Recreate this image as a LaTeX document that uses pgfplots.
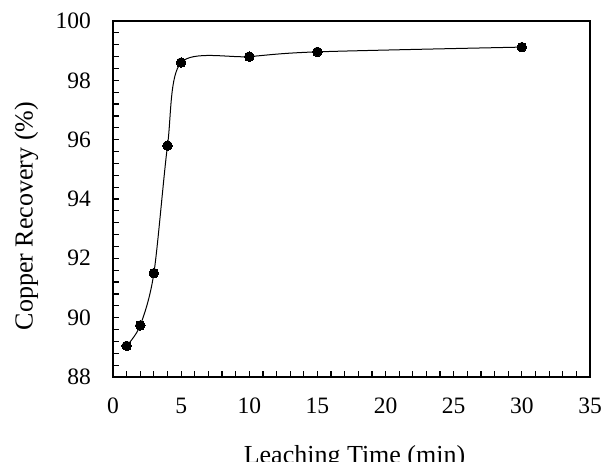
\documentclass[border=0pt]{standalone}
\usepackage{pgfplots}
\pgfplotsset{compat=1.18}
\usepackage{fontspec}
\setmainfont{Liberation Serif}
\begin{document}
\begin{tikzpicture}
\useasboundingbox (0,0) rectangle (603pt,461pt);
\begin{axis}[
  at={(113pt,84pt)}, anchor=south west,
  scale only axis, width=477pt, height=356pt,
  xmin=0, xmax=35, ymin=88, ymax=100,
  xtick={0,5,...,35}, ytick={88,90,...,100},
  minor x tick num=4, minor y tick num=4,
  tick pos=left, tick align=inside,
  major tick length=6pt, minor tick length=6pt,
  major tick style={black, line width=1.2pt},
  minor tick style={black, line width=1.2pt},
  axis line style={black, line width=1.5pt},
  /pgf/number format/assume math mode=true,
  ticklabel style={font=\fontsize{23.5}{28}\selectfont},
  xticklabel style={inner sep=0pt, anchor=north, yshift=-21pt},
  yticklabel style={inner sep=0pt, anchor=east, xshift=-22pt},
  label style={font=\fontsize{26}{31}\selectfont, inner sep=0pt},
  xlabel={Leaching Time (min)},
  ylabel={Copper Recovery (\%)},
  xlabel style={at={(axis description cs:0.5063,-0.191)}, anchor=north},
  ylabel style={at={(axis description cs:-0.1562,0.452)}, anchor=south},
  clip=false,
]
\addplot[black, line width=1pt, smooth, tension=0.5, mark=*, mark size=4.8pt,
  mark options={fill=black, draw=black, line width=0pt}]
  coordinates {(1,89.05) (2,89.74) (3,91.5) (4,95.8) (5,98.6) (10,98.8) (15,98.96) (30,99.12)};
\end{axis}
\end{tikzpicture}
\end{document}
